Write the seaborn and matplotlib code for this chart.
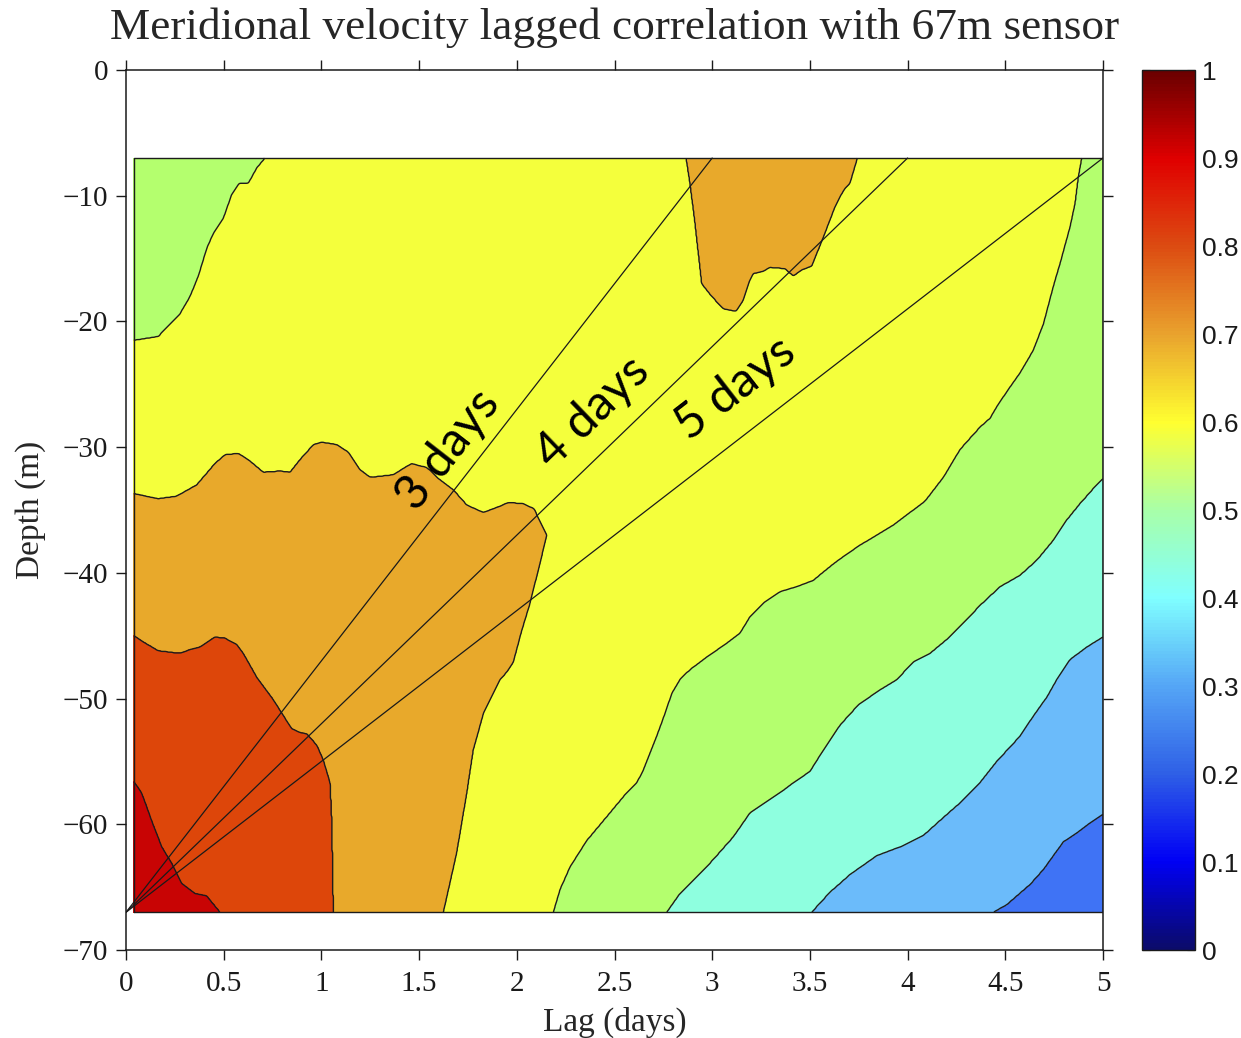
import numpy as np
import matplotlib
matplotlib.use("Agg")
import matplotlib.pyplot as plt
import seaborn as sns
from matplotlib.path import Path
from matplotlib.colors import ListedColormap, LinearSegmentedColormap, BoundaryNorm, Normalize
from matplotlib.cm import ScalarMappable

# ---------------------------------------------------------------------------
# Data: lagged correlation of meridional velocity with the 67 m sensor.
# Each isoline is traced as (lag [days], depth [m]) pairs.
# ---------------------------------------------------------------------------
lag_min, lag_max = 0.04, 5.0
depth_top, depth_bottom = -7.0, -67.0

# 0.9 isoline (left edge -> bottom)
iso09_lag = [0.04, 0.080, 0.131, 0.183, 0.234, 0.285, 0.353, 0.413, 0.481]
iso09_depth = [-56.6, -57.5, -59.7, -61.8, -63.1, -64.7, -65.5, -65.7, -67.0]

# 0.8 isoline (left edge -> bottom)
iso08_lag = [0.04, 0.089, 0.165, 0.276, 0.328, 0.379, 0.455, 0.507, 0.566, 0.600,
             0.669, 0.754, 0.848, 0.890, 0.925, 0.976, 1.010, 1.044, 1.053, 1.061]
iso08_depth = [-45.0, -45.5, -46.2, -46.4, -46.1, -45.9, -45.1, -45.2, -45.7, -46.4,
               -48.3, -50.1, -52.4, -52.7, -52.8, -53.7, -54.9, -56.7, -59.7, -67.0]

# 0.7 isoline, deep lobe (left edge -> bottom)
iso07_lag = [0.04, 0.165, 0.259, 0.362, 0.455, 0.507, 0.575, 0.626, 0.703, 0.788,
             0.839, 0.890, 0.959, 1.001, 1.078, 1.138, 1.198, 1.249, 1.368, 1.419,
             1.462, 1.505, 1.539, 1.590, 1.675, 1.744, 1.829, 1.914, 1.956, 2.033,
             2.088, 2.153, 2.127, 2.068, 2.025, 1.982, 1.948, 1.914, 1.829, 1.777,
             1.744, 1.692, 1.624]
iso07_depth = [-33.7, -34.1, -33.9, -33.0, -31.3, -30.6, -30.5, -31.0, -32.0, -31.9,
               -32.0, -31.0, -29.8, -29.6, -29.8, -30.4, -31.8, -32.4, -32.2, -31.7,
               -31.3, -31.5, -31.6, -32.4, -33.4, -34.6, -35.2, -34.7, -34.4, -34.5,
               -34.9, -37.0, -38.7, -42.4, -44.6, -47.1, -47.9, -48.5, -51.2, -54.1,
               -57.5, -62.3, -67.0]

# 0.7 isoline, near-surface lobe (top -> top)
iso07s_lag = [2.866, 2.886, 2.912, 2.946, 2.997, 3.057, 3.122, 3.159, 3.193, 3.210,
              3.262, 3.296, 3.373, 3.415, 3.458, 3.509, 3.569, 3.628, 3.671, 3.705, 3.743]
iso07s_depth = [-7.0, -9.0, -12.2, -17.0, -18.0, -19.0, -19.2, -18.3, -16.7, -16.2,
                -16.0, -15.7, -15.8, -16.4, -15.9, -15.6, -13.3, -10.9, -9.6, -9.0, -7.0]

# 0.6 isoline, upper-left branch (top -> left edge)
iso06a_lag = [0.711, 0.669, 0.626, 0.580, 0.541, 0.498, 0.447, 0.413, 0.370, 0.328,
              0.276, 0.225, 0.165, 0.123, 0.04]
iso06a_depth = [-7.0, -7.8, -9.0, -9.0, -9.9, -11.8, -13.0, -14.2, -16.4, -18.0,
                -19.4, -20.2, -21.2, -21.3, -21.5]

# 0.6 isoline, right branch (top -> bottom)
iso06b_lag = [4.891, 4.874, 4.857, 4.831, 4.780, 4.746, 4.695, 4.643, 4.575, 4.507,
              4.456, 4.422, 4.371, 4.319, 4.268, 4.183, 4.089, 3.995, 3.927, 3.842,
              3.756, 3.671, 3.603, 3.517, 3.432, 3.347, 3.262, 3.193, 3.142, 3.074,
              2.972, 2.886, 2.835, 2.793, 2.758, 2.716, 2.647, 2.614, 2.562, 2.460,
              2.358, 2.272, 2.221, 2.187]
iso06b_depth = [-7.0, -8.5, -10.6, -12.5, -15.4, -17.2, -20.2, -22.3, -24.1, -25.6,
                -26.8, -27.7, -28.4, -29.3, -30.2, -32.4, -34.3, -35.4, -36.2, -37.0,
                -37.8, -38.7, -39.5, -40.6, -41.1, -41.5, -42.4, -43.5, -44.8, -45.6,
                -46.7, -47.7, -48.5, -49.6, -51.2, -53.0, -55.7, -56.7, -57.5, -59.4,
                -61.3, -63.4, -65.2, -67.0]

# 0.5 isoline (bottom -> right edge)
iso05_lag = [2.767, 2.835, 2.921, 3.006, 3.108, 3.193, 3.279, 3.364, 3.415, 3.500,
             3.569, 3.655, 3.748, 3.859, 3.944, 4.029, 4.115, 4.200, 4.285, 4.370,
             4.473, 4.575, 4.661, 4.746, 4.814, 4.882, 4.950, 5.0]
iso05_depth = [-67.0, -65.5, -64.2, -62.8, -61.0, -59.1, -58.2, -57.3, -56.7, -55.8,
               -54.1, -52.1, -50.5, -49.3, -48.5, -47.1, -46.4, -45.3, -44.0, -42.6,
               -41.1, -40.2, -39.0, -37.4, -35.8, -34.5, -33.3, -32.5]

# 0.4 isoline (bottom -> right edge)
iso04_lag = [3.509, 3.603, 3.705, 3.842, 3.978, 4.080, 4.166, 4.268, 4.370, 4.456,
             4.575, 4.643, 4.712, 4.763, 4.831, 4.917, 5.0]
iso04_depth = [-67.0, -65.4, -64.0, -62.5, -61.7, -60.9, -59.7, -58.3, -56.7, -55.0,
               -53.0, -51.4, -49.9, -48.5, -46.9, -45.9, -45.1]

# 0.3 isoline (bottom -> right edge)
iso03_lag = [4.439, 4.507, 4.626, 4.695, 4.746, 4.797, 4.865, 4.933, 5.0]
iso03_depth = [-67.0, -66.4, -64.8, -63.6, -62.5, -61.4, -60.7, -59.9, -59.2]

# Propagation guide lines from the sensor depth to the top bin
sensor_depth = -67.0
guide_days = [3, 4, 5]
guide_labels = ["3 days", "4 days", "5 days"]
label_lag = [1.648, 2.385, 3.117]
label_depth = [-30.2, -27.2, -25.3]

levels = np.round(np.arange(0.0, 1.01, 0.1), 2)
band_colors = ["#0c0c70", "#1010f0", "#3f73f5", "#6bbbfa", "#8effdf",
               "#b4ff6e", "#f4ff3c", "#e8a92b", "#dd460a", "#c80404"]
bar_anchors = [0.0, 0.1, 0.2, 0.3, 0.4, 0.5, 0.6, 0.7, 0.8, 0.9, 1.0]
bar_colors = ["#0b0b6a", "#0000f5", "#2f60e6", "#55a6f6", "#80ffff", "#a8ffa8",
              "#ffff30", "#e9a32e", "#dc4c12", "#e00000", "#6a0000"]

# ---------------------------------------------------------------------------
# Build the gridded correlation field from the isolines
# ---------------------------------------------------------------------------
lo_l, hi_l = lag_min - 1.0, lag_max + 1.0
lo_d, hi_d = depth_bottom - 5.0, depth_top + 5.0


def poly(lag, depth, extra):
    xs = list(lag) + [p[0] for p in extra]
    ys = list(depth) + [p[1] for p in extra]
    return Path(np.column_stack([xs, ys]))


def left_to_bottom(lag, depth):
    return poly(lag, depth, [(lag[-1], lo_d), (lo_l, lo_d), (lo_l, depth[0])])


def bottom_to_right(lag, depth):
    return poly(lag, depth, [(hi_l, depth[-1]), (hi_l, hi_d), (lo_l, hi_d),
                             (lo_l, lo_d), (lag[0], lo_d)])


s9 = left_to_bottom(iso09_lag, iso09_depth)
s8 = left_to_bottom(iso08_lag, iso08_depth)
s7 = left_to_bottom(iso07_lag, iso07_depth)
s7s = poly(iso07s_lag, iso07s_depth, [(iso07s_lag[-1], hi_d), (iso07s_lag[0], hi_d)])
s6 = poly(list(iso06a_lag) + [lo_l, lo_l, iso06b_lag[-1]] + list(iso06b_lag[::-1])
          + [iso06b_lag[0], iso06a_lag[0]],
          list(iso06a_depth) + [iso06a_depth[-1], lo_d, lo_d] + list(iso06b_depth[::-1])
          + [hi_d, hi_d],
          [])
s5 = bottom_to_right(iso05_lag, iso05_depth)
s4 = bottom_to_right(iso04_lag, iso04_depth)
s3 = bottom_to_right(iso03_lag, iso03_depth)

lags = np.linspace(lag_min, lag_max, 1300)
depths = np.linspace(depth_bottom, depth_top, 1000)
LL, DD = np.meshgrid(lags, depths)
pts = np.column_stack([LL.ravel(), DD.ravel()])

count = np.zeros(pts.shape[0])
for region in (s3, s4, s5, s6, s8, s9):
    count += region.contains_points(pts)
count += s7.contains_points(pts) | s7s.contains_points(pts)
field = (0.25 + 0.1 * count).reshape(LL.shape)

# light separable smoothing so the contour edges are not pixel-stepped
sig = 1.3
rad = 4
k = np.exp(-0.5 * (np.arange(-rad, rad + 1) / sig) ** 2)
k /= k.sum()
pad = np.pad(field, rad, mode="edge")
tmp = sum(w * pad[:, i:i + pad.shape[1] - 2 * rad] for i, w in enumerate(k))
field = sum(w * tmp[i:i + tmp.shape[0] - 2 * rad, :] for i, w in enumerate(k))

# ---------------------------------------------------------------------------
# Plot
# ---------------------------------------------------------------------------
sns.set_theme(style="ticks")
plt.rcParams["font.family"] = ["Liberation Serif", "DejaVu Serif"]
plt.rcParams["axes.unicode_minus"] = True

fig = plt.figure(figsize=(12.41, 10.38), dpi=100)
ax = fig.add_axes([126 / 1241, 1 - 950 / 1038, (1103 - 126) / 1241, (950 - 70) / 1038])
cax = fig.add_axes([1142 / 1241, 1 - 950 / 1038, 53 / 1241, (950 - 70) / 1038])

band_cmap = ListedColormap(band_colors)
band_norm = BoundaryNorm(levels, band_cmap.N)
ax.contourf(lags, depths, field, levels=levels, cmap=band_cmap, norm=band_norm)
ax.contour(lags, depths, field, levels=levels[3:-1], colors="#1c1c1c", linewidths=1.0)

# outline of the data domain
ax.plot([lags[0], lags[-1], lags[-1], lags[0], lags[0]],
        [depths[0], depths[0], depths[-1], depths[-1], depths[0]],
        color="#1c1c1c", lw=1.0)

for d, lab, lx, ly in zip(guide_days, guide_labels, label_lag, label_depth):
    ax.plot([0, d], [sensor_depth, depth_top], color="#1a1a1a", lw=0.9)
    ang = np.degrees(np.arctan2(depth_top - sensor_depth, d))
    ax.text(lx, ly, lab, rotation=ang, transform_rotates_text=True,
            rotation_mode="anchor", ha="center", va="center",
            fontsize=35, family=["Lato", "DejaVu Sans"], color="black")

ax.set_xlim(0, 5)
ax.set_ylim(-70, 0)
ax.set_xticks(np.arange(0, 5.01, 0.5))
ax.set_xticklabels(["0", "0.5", "1", "1.5", "2", "2.5", "3", "3.5", "4", "4.5", "5"])
ax.set_yticks(np.arange(-70, 0.1, 10))
for s in ax.spines.values():
    s.set_visible(True)
    s.set_linewidth(1.1)
    s.set_color("#1a1a1a")
ax.tick_params(direction="out", length=7, width=1.0, labelsize=21,
               top=True, right=True, colors="#1a1a1a", pad=6)
ax.tick_params(axis="x", pad=8)
ax.set_xlabel("Lag (days)", fontsize=24, labelpad=7)
ax.set_ylabel("Depth (m)", fontsize=24, labelpad=12)
ax.set_title("Meridional velocity lagged correlation with 67m sensor", fontsize=32.6, pad=22)

bar_cmap = LinearSegmentedColormap.from_list("bar", list(zip(bar_anchors, bar_colors)))
cb = fig.colorbar(ScalarMappable(norm=Normalize(0, 1), cmap=bar_cmap), cax=cax)
cb.set_ticks(levels)
cb.set_ticklabels(["0", "0.1", "0.2", "0.3", "0.4", "0.5", "0.6", "0.7", "0.8", "0.9", "1"])
cb.outline.set_linewidth(1.0)
cb.outline.set_edgecolor("#1a1a1a")
cax.tick_params(direction="in", left=True, right=True, length=6, width=0.8,
                labelsize=19, pad=5, colors="#1a1a1a")
for t in cax.get_yticklabels():
    t.set_family(["Liberation Sans", "DejaVu Sans"])

fig.savefig("out.png", dpi=100)
